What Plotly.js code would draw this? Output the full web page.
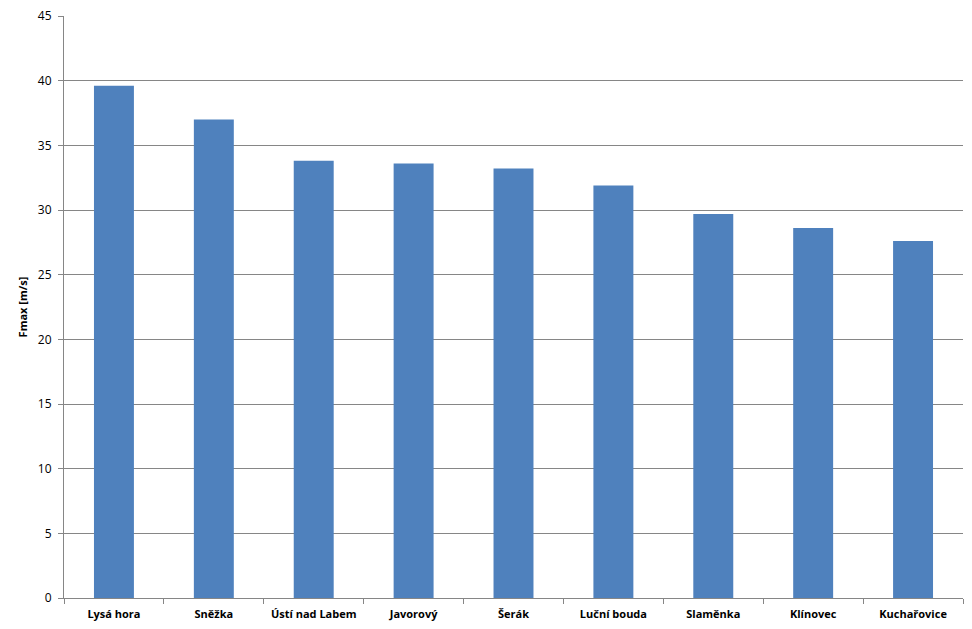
<!DOCTYPE html>
<html><head><meta charset="utf-8">
<script src="https://cdn.plot.ly/plotly-3.0.1.min.js"></script>
<style>html,body{margin:0;padding:0;background:#fff}#chart{width:972px;height:629px}</style>
</head><body><div id="chart"></div>
<script>
const stations = ["Lysá hora","Sněžka","Ústí nad Labem","Javorový","Šerák","Luční bouda","Slaměnka","Klínovec","Kuchařovice"];
const fmax = [39.6, 37.0, 33.8, 33.6, 33.2, 31.9, 29.7, 28.6, 27.6];
const yTicks = [0,5,10,15,20,25,30,35,40,45];

const font = "Open Sans, Liberation Sans, DejaVu Sans, sans-serif";
Plotly.newPlot("chart", [{
  type: "bar", x: stations, y: fmax,
  marker: {color: "#4F81BD"}, hoverinfo: "none"
}], {
  width: 972, height: 629,
  margin: {l: 64, r: 9, t: 16, b: 31},
  bargap: 0.6,
  paper_bgcolor: "#fff", plot_bgcolor: "#fff",
  showlegend: false,
  xaxis: {
    type: "category", showline: true, linecolor: "#868686", linewidth: 1,
    ticks: "outside", tickson: "boundaries", ticklen: 5, tickcolor: "#868686",
    showgrid: false, ticklabelstandoff: 6,
    tickfont: {family: font, size: 11, color: "#000", weight: "bold"}
  },
  yaxis: {
    range: [0, 45], tickvals: yTicks, ticktext: yTicks.map(String),
    showline: true, linecolor: "#868686", linewidth: 1,
    ticks: "outside", ticklen: 5, tickcolor: "#868686",
    showgrid: true, gridcolor: "#868686", gridwidth: 1, zeroline: false,
    ticklabelstandoff: 4,
    tickfont: {family: font, size: 12, color: "#000"},
    title: {text: "Fmax [m/s]", font: {family: font, size: 11, color: "#000", weight: "bold"}, standoff: 8}
  }
}, {staticPlot: true});
</script></body></html>
